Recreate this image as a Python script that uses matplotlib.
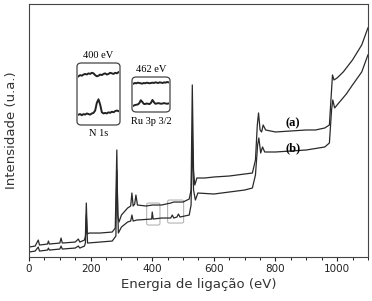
import matplotlib
matplotlib.use("Agg")
import matplotlib.pyplot as plt
from matplotlib.patches import FancyBboxPatch
from matplotlib.ticker import MultipleLocator

# ---- data (binding energy eV, intensity a.u.) ----
ev_a = [0, 20, 30, 34, 60, 63, 66, 100, 104, 108, 150, 160, 165, 180, 183, 186, 189, 195, 230, 270, 280,
        285, 288, 292, 300, 320, 330, 334, 338, 343, 347, 352, 380, 400, 430, 460, 470, 500, 520, 526,
        530, 534, 538, 545, 570, 600, 650, 700, 725, 735, 741, 745, 750, 755, 760, 768, 800, 850, 900,
        930, 960, 975, 982, 985, 990, 1000, 1020, 1050, 1080, 1100]
int_a = [10, 11, 17, 12, 13, 16, 13, 14, 19, 14, 15, 18, 15, 17, 21, 54, 23, 24, 24, 25, 29,
         107, 42, 35, 42, 49, 51, 64, 51, 53, 62, 52, 51, 52, 52, 54, 55, 55, 58, 67,
         172, 87, 72, 79, 79, 80, 81, 83, 84, 97, 132, 144, 127, 125, 132, 127, 125, 126, 127,
         127, 129, 132, 167, 182, 177, 179, 185, 197, 212, 229]

ev_b = [0, 20, 30, 34, 60, 63, 66, 100, 104, 108, 150, 160, 165, 180, 183, 186, 190, 230, 270, 282,
        285, 290, 300, 320, 330, 334, 338, 350, 398, 400, 403, 430, 460, 465, 470, 480, 485, 490, 520,
        526, 530, 534, 540, 548, 600, 650, 700, 725, 735, 742, 746, 752, 758, 765, 800, 850, 900, 960,
        975, 982, 986, 992, 1000, 1030, 1050, 1080, 1100]
int_b = [5, 6, 10, 6, 7, 9, 7, 8, 11, 8, 9, 11, 9, 11, 14, 42, 14, 15, 16, 21,
         87, 24, 30, 35, 36, 42, 36, 37, 38, 45, 38, 39, 39, 42, 39, 40, 43, 40, 42,
         52, 122, 67, 57, 64, 63, 65, 67, 69, 82, 112, 119, 104, 110, 105, 105, 106, 107, 110,
         114, 147, 157, 149, 152, 163, 172, 185, 202]

# inset traces (normalised 0..1 inside each box)
n1s_x = list(range(25))
n1s_upper = [0.80, 0.82, 0.81, 0.83, 0.84, 0.83, 0.85, 0.84, 0.86, 0.85, 0.82, 0.80, 0.81,
             0.83, 0.82, 0.84, 0.85, 0.83, 0.84, 0.86, 0.85, 0.84, 0.86, 0.85, 0.87]
n1s_lower = [0.15, 0.16, 0.14, 0.16, 0.15, 0.17, 0.16, 0.15, 0.17, 0.18, 0.22, 0.35, 0.41,
             0.32, 0.19, 0.17, 0.18, 0.17, 0.19, 0.18, 0.20, 0.19, 0.21, 0.22, 0.21]
ru_x = list(range(25))
ru_upper = [0.84, 0.86, 0.85, 0.87, 0.86, 0.85, 0.84, 0.86, 0.85, 0.87, 0.86, 0.85, 0.86,
            0.87, 0.86, 0.88, 0.87, 0.86, 0.88, 0.87, 0.86, 0.88, 0.87, 0.89, 0.88]
ru_lower = [0.15, 0.17, 0.18, 0.19, 0.23, 0.32, 0.27, 0.21, 0.20, 0.22, 0.21, 0.20, 0.24,
            0.33, 0.26, 0.21, 0.22, 0.23, 0.22, 0.21, 0.22, 0.23, 0.22, 0.21, 0.22]

xticks = [0, 200, 400, 600, 800, 1000]

fig = plt.figure(figsize=(3.72, 3.01), dpi=100)
ax = fig.add_axes([0.078, 0.146, 0.911, 0.841])
lc = "#2a2a2a"
ax.plot(ev_a, int_a, color=lc, lw=0.9)
ax.plot(ev_b, int_b, color=lc, lw=0.9)
ax.set_xlim(0, 1100)
ax.set_ylim(0, 253)
ax.set_xticks(xticks)
ax.xaxis.set_minor_locator(MultipleLocator(50))
ax.set_yticks([])
ax.tick_params(axis="x", labelsize=7.5, length=3, width=0.8, colors="#222222", pad=2)
ax.tick_params(axis="x", which="minor", length=2, width=0.6)
for s in ax.spines.values():
    s.set_linewidth(0.8)
    s.set_color("#444444")
ax.set_xlabel("Energia de ligação (eV)", fontsize=9.5, color="#333333", labelpad=3)
ax.set_ylabel("Intensidade (u.a.)", fontsize=9.5, color="#333333", labelpad=8)

# small grey boxes on main plot
for (x0, x1, y0, y1) in [(382, 425, 32, 54), (450, 502, 34, 57)]:
    ax.add_patch(FancyBboxPatch((x0, y0), x1 - x0, y1 - y0,
                                boxstyle="round,pad=0,rounding_size=6",
                                mutation_aspect=0.25,
                                fill=False, ec="#aaaaaa", lw=0.7))

serif = ["Liberation Serif", "DejaVu Serif"]
ax.text(855, 134, "(a)", fontsize=9, family=serif, fontweight="bold", ha="center", va="center")
ax.text(858, 109, "(b)", fontsize=9, family=serif, fontweight="bold", ha="center", va="center")

# insets
W, H = 372.0, 301.0
def inset(xpx0, xpx1, ypx0, ypx1, xs, up, lo):
    rect = [xpx0 / W, (H - ypx1) / H, (xpx1 - xpx0) / W, (ypx1 - ypx0) / H]
    fig.patches.append(FancyBboxPatch((rect[0], rect[1]), rect[2], rect[3],
                                      boxstyle="round,pad=0,rounding_size=0.012",
                                      transform=fig.transFigure, fill=False,
                                      ec="#444444", lw=0.9))
    ia = fig.add_axes([rect[0] + 0.004, rect[1] + 0.005, rect[2] - 0.008, rect[3] - 0.01])
    ia.plot(xs, up, color="#222222", lw=1.4)
    ia.plot(xs, lo, color="#222222", lw=1.4)
    ia.set_xlim(min(xs), max(xs))
    ia.set_ylim(0, 1)
    ia.axis("off")

inset(77, 120, 63, 125, n1s_x, n1s_upper, n1s_lower)
inset(132, 170, 77, 112, ru_x, ru_upper, ru_lower)

fig.text(98.5 / W, 1 - 55 / H, "400 eV", fontsize=7.5, family=serif, ha="center", va="center")
fig.text(98.5 / W, 1 - 134 / H, "N 1s", fontsize=7.5, family=serif, ha="center", va="center")
fig.text(151 / W, 1 - 69 / H, "462 eV", fontsize=7.5, family=serif, ha="center", va="center")
fig.text(151 / W, 1 - 121 / H, "Ru 3p 3/2", fontsize=7.5, family=serif, ha="center", va="center")

fig.savefig("out.png", dpi=100)
